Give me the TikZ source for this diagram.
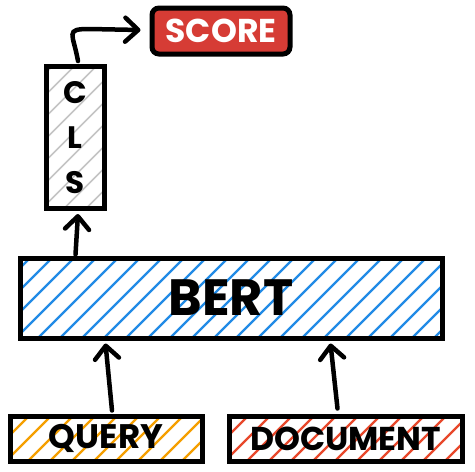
\documentclass[tikz,border=0pt]{standalone}
\usepackage{fontspec}
\setmainfont{Poppins}
\usetikzlibrary{arrows.meta,calc}
\definecolor{bertblue}{HTML}{228BE6}
\definecolor{qorange}{HTML}{F59F00}
\definecolor{dred}{HTML}{E8482B}
\definecolor{scorered}{HTML}{D63C35}
\definecolor{clsgrey}{HTML}{C4C4C4}
\tikzset{
  hatchfill/.style 2 args={path picture={
    \foreach \i in {-620,-598,...,620}{
      \draw[#1,line width=#2] ($(path picture bounding box.south west)+(\i,0)$) -- ++(620,-620);}}},
  boxnode/.style={draw=black,line width=5pt,rectangle,inner sep=0pt},
  arr/.style={line width=4.5pt,line cap=round,-{Straight Barb[length=13pt,width=24pt,round]}},
}
\begin{document}
\begin{tikzpicture}[x=1pt,y=-1pt]
\useasboundingbox[fill=white] (0,0) rectangle (475,472);
\node[boxnode,minimum width=422pt,minimum height=80pt,hatchfill={bertblue}{2.4pt},
  font=\fontsize{51}{51}\selectfont\bfseries] (bert) at (231,298) {BERT};
\node[boxnode,minimum width=58pt,minimum height=142pt,hatchfill={clsgrey}{1.6pt},
  align=center,font=\fontsize{31}{45}\selectfont\bfseries] (cls) at (75,137.5) {C\\L\\S};
\node[boxnode,fill=scorered,rounded corners=7pt,minimum width=138pt,minimum height=46pt,
  text=white,font=\fontsize{33}{33}\selectfont\bfseries] (score) at (221,31) {SCORE};
\node[boxnode,minimum width=192pt,minimum height=45pt,hatchfill={qorange}{2.4pt},
  font=\fontsize{34}{34}\selectfont\bfseries] (query) at (106,438.5) {QUERY};
\node[boxnode,minimum width=233pt,minimum height=45pt,hatchfill={dred}{2.4pt},
  font=\fontsize{33}{33}\selectfont\bfseries] (doc) at (345.5,438.5) {DOCUMENT};
\draw[arr] ($(bert.north west)+(58,-1)$) -- ($(cls.south)+(3,3)$);
\draw[arr] ($(cls.north)+(3,-3)$) .. controls +(-5,-28) and +(-25,0) .. ($(score.west)+(-60,-2)$) -- ($(score.west)+(-9,-1)$);
\draw[arr] ($(query.north)+(6,-3)$) -- ($(bert.south west)+(88,3)$);
\draw[arr] ($(doc.north)+(-8,-5)$) -- ($(bert.south west)+(313,3)$);
\end{tikzpicture}
\end{document}
